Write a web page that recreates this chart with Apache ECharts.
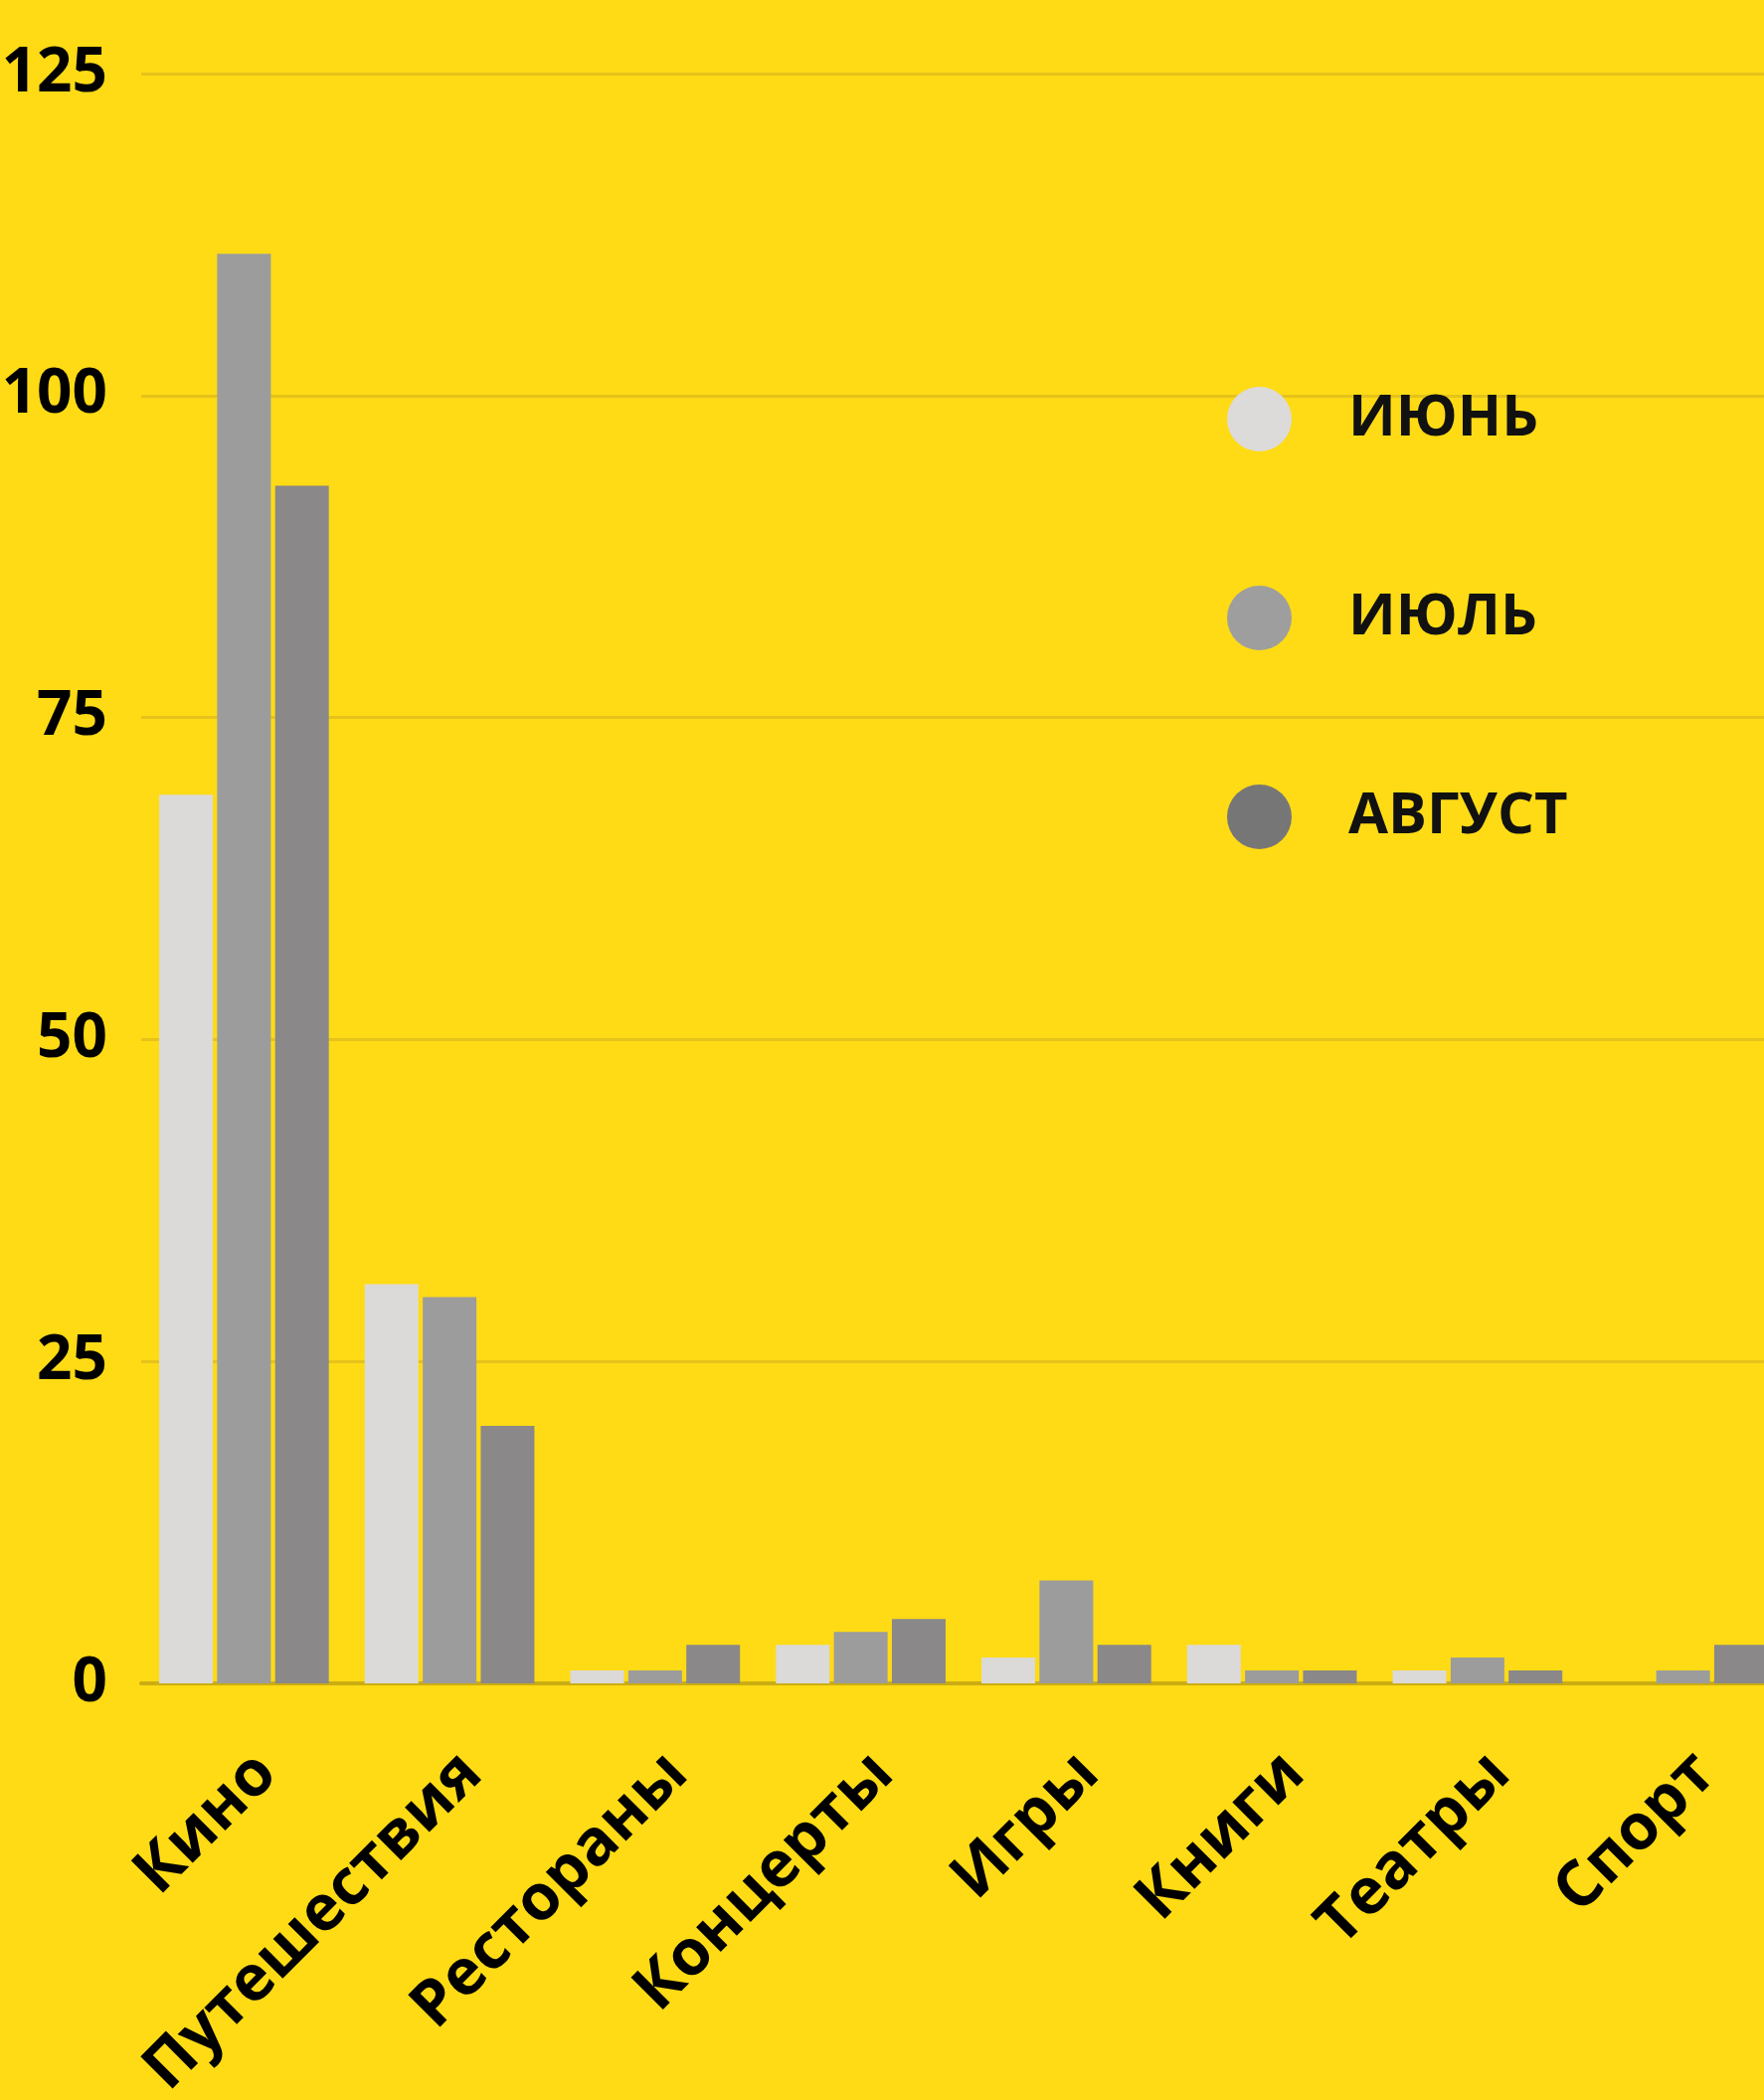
<!DOCTYPE html>
<html lang="ru" style="height: 100%">
<head>
    <meta charset="utf-8">
    <script type="text/javascript" src="https://cdn.jsdelivr.net/npm/echarts@6/dist/echarts.min.js"></script>
</head>
<body style="height: 100%; margin: 0; background: #fedb15;">
    <div id="container" style="width: 1774px; height: 2112px"></div>
    <script type="text/javascript">
        var categories = ['Кино', 'Путешествия', 'Рестораны', 'Концерты', 'Игры', 'Книги', 'Театры', 'Спорт'];
        var seriesNames = ['ИЮНЬ', 'ИЮЛЬ', 'АВГУСТ'];
        var june = [69, 31, 1, 3, 2, 3, 1, 0];
        var july = [111, 30, 1, 4, 8, 1, 2, 1];
        var august = [93, 20, 3, 5, 3, 1, 1, 3];
        var barColors = ['#dcd9d9', '#9c9c9c', '#8a8889'];
        var legendColors = ['#dddada', '#9e9e9e', '#777677'];

        var font = '"Open Sans", "DejaVu Sans", sans-serif';
        var chart = echarts.init(document.getElementById('container'), null, { renderer: 'canvas' });

        function barSeries(name, data, color) {
            return {
                name: name,
                type: 'bar',
                data: data,
                barWidth: 54,
                barGap: '8%',
                itemStyle: { color: color },
                emphasis: { disabled: true }
            };
        }

        var option = {
            backgroundColor: '#fedb15',
            animation: false,
            // the plot runs past the right edge of the picture (the last bar is cut)
            grid: { left: 142, width: 1654, top: 74, bottom: 419, containLabel: false, outerBoundsMode: 'none' },
            legend: {
                orient: 'vertical',
                left: 1229,
                top: 384,
                icon: 'circle',
                itemWidth: 65,
                itemHeight: 65,
                itemGap: 135,
                data: seriesNames.map(function (n, i) {
                    return { name: n, itemStyle: { color: legendColors[i] } };
                }),
                textStyle: {
                    color: '#111',
                    fontFamily: font,
                    fontWeight: 'bold',
                    fontSize: 58,
                    padding: [0, 0, 0, 52]
                }
            },
            xAxis: {
                type: 'category',
                data: categories,
                axisLine: { show: true, lineStyle: { color: '#cbad12', width: 4 } },
                axisTick: { show: false },
                axisLabel: {
                    rotate: 45,
                    interval: 0,
                    margin: 58,
                    verticalAlign: 'top',
                    color: '#000',
                    fontFamily: font,
                    fontWeight: 'bold',
                    fontSize: 64
                }
            },
            yAxis: {
                type: 'value',
                min: 0,
                max: 125,
                interval: 25,
                axisLine: { show: false },
                axisTick: { show: false },
                splitLine: { lineStyle: { color: '#e6c31a', width: 3 } },
                axisLabel: {
                    margin: 34,
                    color: '#000',
                    fontFamily: font,
                    fontWeight: 'bold',
                    fontSize: 62
                }
            },
            series: [
                barSeries(seriesNames[0], june, barColors[0]),
                barSeries(seriesNames[1], july, barColors[1]),
                barSeries(seriesNames[2], august, barColors[2])
            ]
        };
        chart.setOption(option);
        window.addEventListener('resize', chart.resize);
    </script>
</body>
</html>
